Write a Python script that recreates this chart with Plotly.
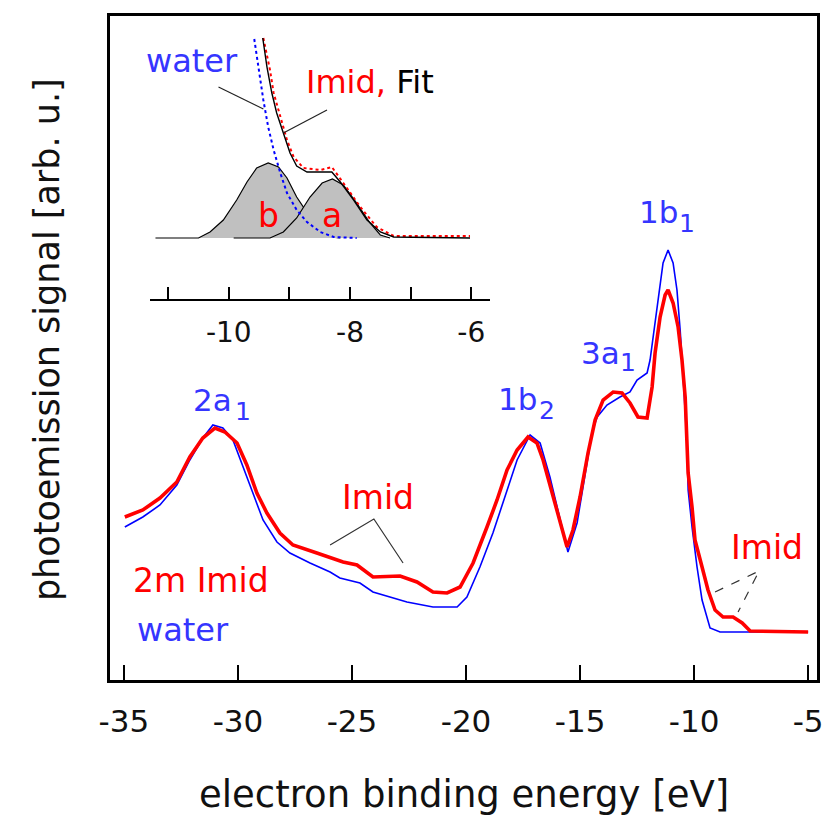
import plotly.graph_objects as go

# ---------------- main spectra: binding energy [eV] vs signal [arb. u.] ----------------
water_E = [-34.96, -34.17, -33.42, -32.68, -32.11, -31.54, -31.10, -30.66, -30.22, -29.78,
           -29.34, -28.90, -28.29, -27.72, -26.84, -25.96, -25.53, -24.65, -24.08, -22.59,
           -21.45, -20.39, -19.96, -19.39, -18.82, -18.20, -17.76, -17.19, -16.75, -16.32,
           -15.88, -15.53, -15.13, -14.69, -14.47, -14.25, -13.82, -13.25, -12.81, -12.50,
           -12.06, -11.93, -11.80, -11.58, -11.36, -11.14, -10.92, -10.75, -10.61, -10.48,
           -10.31, -10.26, -10.09, -9.87, -9.65, -9.30, -8.86, -5.00]
water_S = [1.05, 1.15, 1.27, 1.47, 1.72, 1.94, 2.07, 2.04, 1.92, 1.65,
           1.39, 1.12, 0.90, 0.79, 0.69, 0.60, 0.54, 0.49, 0.40, 0.30,
           0.25, 0.25, 0.35, 0.65, 0.99, 1.42, 1.72, 1.97, 1.89, 1.55,
           1.12, 0.80, 1.09, 1.72, 2.00, 2.15, 2.27, 2.35, 2.40, 2.52,
           2.59, 2.72, 2.95, 3.35, 3.69, 3.82, 3.69, 3.42, 3.02, 2.55,
           1.89, 1.42, 1.05, 0.65, 0.32, 0.04, 0.00, 0.00]

imid_E = [-34.96, -34.17, -33.42, -32.68, -32.11, -31.54, -31.01, -30.57, -30.04, -29.61,
          -29.17, -28.73, -28.16, -27.59, -26.54, -25.39, -24.78, -24.08, -22.89, -22.15,
          -21.45, -20.83, -20.26, -19.69, -19.08, -18.64, -18.20, -17.76, -17.28, -16.89,
          -16.62, -16.18, -15.79, -15.57, -15.31, -15.00, -14.65, -14.34, -13.99, -13.55,
          -13.16, -12.81, -12.46, -12.06, -11.84, -11.71, -11.49, -11.27, -11.14, -10.92,
          -10.70, -10.53, -10.39, -10.31, -10.26, -10.09, -9.96, -9.65, -9.39, -9.08,
          -8.73, -8.29, -7.89, -7.54, -5.00]
imid_S = [1.15, 1.22, 1.34, 1.50, 1.75, 1.94, 2.04, 2.00, 1.89, 1.67,
          1.39, 1.19, 0.99, 0.87, 0.79, 0.70, 0.67, 0.55, 0.56, 0.50,
          0.40, 0.39, 0.45, 0.69, 1.05, 1.32, 1.62, 1.82, 1.95, 1.89,
          1.72, 1.35, 1.02, 0.85, 1.02, 1.35, 1.79, 2.12, 2.32, 2.40,
          2.39, 2.29, 2.15, 2.14, 2.45, 2.79, 3.15, 3.37, 3.42, 3.29,
          3.05, 2.72, 2.35, 1.92, 1.59, 1.25, 0.92, 0.65, 0.42, 0.22,
          0.15, 0.15, 0.09, 0.01, 0.00]

# ---------------- inset: fit of the low binding-energy edge ----------------
fit_E = [-9.44, -9.37, -9.29, -9.21, -9.10, -8.99, -8.88, -8.71, -8.30, -8.16,
         -7.94, -7.72, -7.50, -7.28, -6.02]
fit_S = [2.00, 1.71, 1.45, 1.25, 1.05, 0.85, 0.72, 0.66, 0.66, 0.56,
         0.38, 0.18, 0.06, 0.01, 0.00]

peak_b_E = [-11.21, -10.50, -10.31, -10.09, -9.87, -9.70, -9.54, -9.35, -9.18, -9.04,
            -8.88, -8.71, -8.55, -8.33, -8.16]
peak_b_S = [0.00, 0.00, 0.06, 0.18, 0.38, 0.56, 0.70, 0.75, 0.71, 0.60,
            0.41, 0.25, 0.11, 0.01, 0.00]

peak_a_E = [-9.92, -9.32, -9.10, -8.88, -8.66, -8.46, -8.29, -8.11, -7.89, -7.67,
            -7.50, -7.34]
peak_a_S = [0.00, 0.00, 0.06, 0.20, 0.41, 0.55, 0.59, 0.53, 0.35, 0.15,
            0.03, 0.00]

inset_water_E = [-9.58, -9.51, -9.43, -9.35, -9.26, -9.15, -9.04, -8.88, -8.71, -8.49,
                 -8.27, -7.89]
inset_water_S = [1.99, 1.71, 1.38, 1.11, 0.88, 0.65, 0.45, 0.28, 0.16, 0.06,
                 0.01, 0.00]

inset_imid_E = [-9.43, -9.32, -9.26, -9.15, -9.04, -8.93, -8.77, -8.49, -8.30, -8.11,
                -7.83, -7.56, -7.28, -6.02]
inset_imid_S = [2.00, 1.68, 1.45, 1.21, 0.98, 0.81, 0.70, 0.68, 0.71, 0.55,
                0.31, 0.11, 0.02, 0.02]

# ---------------- ticks ----------------
x_tickvals = [-35, -30, -25, -20, -15, -10, -5]
x_ticktext = ["-35", "-30", "-25", "-20", "-15", "-10", "-5"]
inset_tickvals = [-11, -10, -9, -8, -7, -6]
inset_ticktext = ["", "-10", "", "-8", "", "-6"]

# leader lines (data coordinates)
lead_mid_E = [-25.96, -24.04, -22.76]
lead_mid_S = [0.87, 1.13, 0.69]
lead_right_E = [-9.08, -7.15, -8.07]
lead_right_S = [0.40, 0.61, 0.20]
lead_inset_water_E = [-10.17, -9.43]
lead_inset_water_S = [1.51, 1.29]
lead_inset_fit_E = [-8.38, -9.10]
lead_inset_fit_S = [1.28, 1.05]

FONT = "DejaVu Sans"
RED = "#ff0000"
BLUE = "#0000ff"
BLUE_TXT = "#3535ff"

fig = go.Figure()

# main curves
fig.add_trace(go.Scatter(x=water_E, y=water_S, mode="lines",
                         line=dict(color=BLUE, width=1.6), xaxis="x", yaxis="y"))
fig.add_trace(go.Scatter(x=imid_E, y=imid_S, mode="lines",
                         line=dict(color=RED, width=3.6), xaxis="x", yaxis="y"))

# inset curves
fig.add_trace(go.Scatter(x=peak_b_E, y=peak_b_S, mode="lines", fill="tozeroy",
                         fillcolor="#c0c0c0", line=dict(color="black", width=1.2),
                         xaxis="x2", yaxis="y2"))
fig.add_trace(go.Scatter(x=peak_a_E, y=peak_a_S, mode="lines", fill="tozeroy",
                         fillcolor="#c0c0c0", line=dict(color="black", width=1.2),
                         xaxis="x2", yaxis="y2"))
fig.add_trace(go.Scatter(x=inset_water_E, y=inset_water_S, mode="lines",
                         line=dict(color=BLUE, width=2, dash="dot"),
                         xaxis="x2", yaxis="y2"))
fig.add_trace(go.Scatter(x=inset_imid_E, y=inset_imid_S, mode="lines",
                         line=dict(color=RED, width=2, dash="dot"),
                         xaxis="x2", yaxis="y2"))
fig.add_trace(go.Scatter(x=fit_E, y=fit_S, mode="lines",
                         line=dict(color="black", width=1.4),
                         xaxis="x2", yaxis="y2"))

# leader lines
fig.add_trace(go.Scatter(x=lead_mid_E, y=lead_mid_S, mode="lines",
                         line=dict(color="#333333", width=1.2), xaxis="x", yaxis="y"))
fig.add_trace(go.Scatter(x=lead_right_E, y=lead_right_S, mode="lines",
                         line=dict(color="#333333", width=1.2, dash="dash"), xaxis="x", yaxis="y"))
fig.add_trace(go.Scatter(x=lead_inset_water_E, y=lead_inset_water_S, mode="lines",
                         line=dict(color="#222222", width=1.2), xaxis="x2", yaxis="y2"))
fig.add_trace(go.Scatter(x=lead_inset_fit_E, y=lead_inset_fit_S, mode="lines",
                         line=dict(color="#222222", width=1.2), xaxis="x2", yaxis="y2"))


def txt(text, x, y, size, color, xref="x", yref="y", angle=0):
    return dict(text=text, x=x, y=y, xref=xref, yref=yref, showarrow=False,
                xanchor="center", yanchor="middle", textangle=angle,
                font=dict(family=FONT, size=size, color=color))


annotations = [
    # peak labels (main text + subscript)
    txt("2a", -31.10, 2.32, 31, BLUE_TXT), txt("1", -29.80, 2.21, 25, BLUE_TXT),
    txt("1b", -17.76, 2.33, 31, BLUE_TXT), txt("2", -16.45, 2.22, 25, BLUE_TXT),
    txt("3a", -14.12, 2.79, 31, BLUE_TXT), txt("1", -12.89, 2.70, 25, BLUE_TXT),
    txt("1b", -11.54, 4.20, 31, BLUE_TXT), txt("1", -10.31, 4.09, 25, BLUE_TXT),
    # series labels
    txt("2m Imid", -31.62, 0.52, 33, RED),
    txt("water", -32.41, 0.02, 32, BLUE_TXT),
    txt("Imid", -23.86, 1.35, 33, RED),
    txt("Imid", -6.80, 0.85, 33, RED),
    # inset labels
    txt("water", -10.60, 1.77, 32, BLUE_TXT, "x2", "y2"),
    txt("<span style='color:#ff0000'>Imid,</span> Fit", -7.67, 1.56, 32, "black", "x2", "y2"),
    txt("b", -9.35, 0.23, 33, RED, "x2", "y2"),
    txt("a", -8.29, 0.23, 33, RED, "x2", "y2"),
    # axis titles
    txt("electron binding energy [eV]", 0.5, -0.172, 37, "#111111", "paper", "paper"),
    txt("photoemission signal [arb. u.]", -0.089, 0.512, 35, "#111111", "paper", "paper", -90),
]

fig.update_layout(
    width=826, height=822,
    margin=dict(l=110, r=9, t=16, b=142),
    paper_bgcolor="white", plot_bgcolor="white",
    showlegend=False,
    template="none",
    font=dict(family=FONT, color="#111111"),
    annotations=annotations,
    xaxis=dict(range=[-35.61, -4.61], domain=[0, 1], anchor="y",
               tickvals=x_tickvals, ticktext=x_ticktext,
               ticks="inside", ticklen=15, tickwidth=1.5, tickcolor="black",
               showline=True, linecolor="black", linewidth=2.5, mirror=True,
               showgrid=False, zeroline=False,
               tickfont=dict(family=FONT, size=31, color="#111111"),
               ticklabelstandoff=12),
    yaxis=dict(range=[-0.48, 6.16], domain=[0, 1], anchor="x",
               showticklabels=False, ticks="",
               showline=True, linecolor="black", linewidth=2.5, mirror=True,
               showgrid=False, zeroline=False),
    xaxis2=dict(range=[-11.30, -5.69], domain=[0.0566, 0.5375], anchor="y2",
                tickvals=inset_tickvals, ticktext=inset_ticktext,
                ticks="inside", ticklen=12, tickwidth=1.5, tickcolor="black",
                showline=True, linecolor="black", linewidth=1.8,
                showgrid=False, zeroline=False,
                tickfont=dict(family=FONT, size=28, color="#111111"),
                ticklabelstandoff=8),
    yaxis2=dict(range=[-0.61, 2.08], domain=[0.5738, 0.9789], anchor="x2",
                visible=False, showgrid=False, zeroline=False),
)

# remove the default 8 px page margin so the figure sits at the window origin
fig.write_html("out.html",
               config={"displayModeBar": False},
               post_script="document.body.style.margin='0';"
                           "document.body.style.overflow='hidden';")
